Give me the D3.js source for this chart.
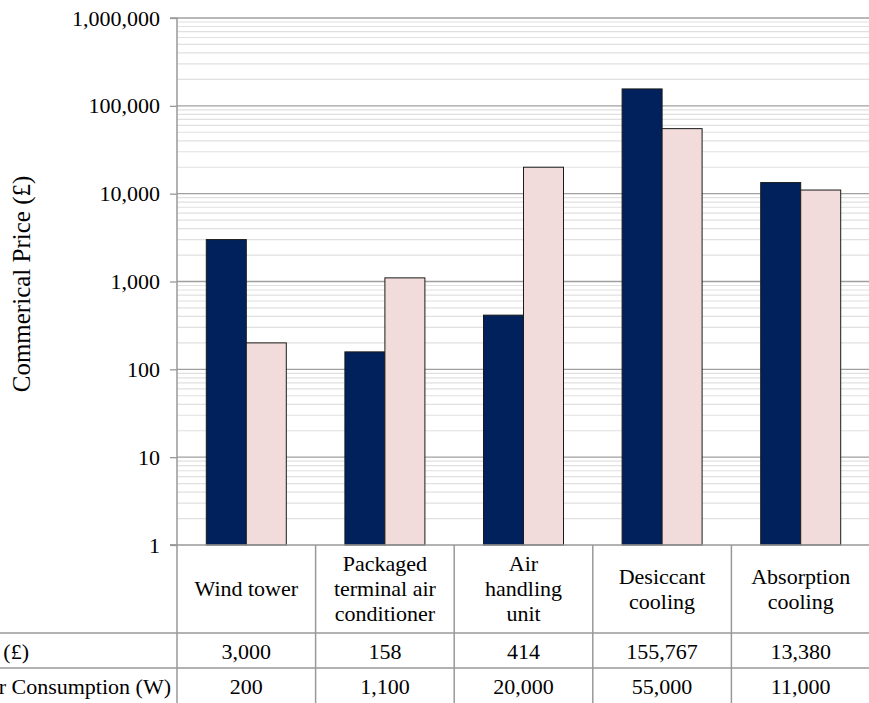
<!DOCTYPE html>
<html><head><meta charset="utf-8">
<script src="https://cdn.jsdelivr.net/npm/d3@7"></script>
<style>body{margin:0;background:#fff;}svg{display:block;font-family:"Liberation Serif","Times New Roman",serif;}</style>
</head><body>
<svg id="c" width="869" height="703"></svg>
<script>
const categories = [["Wind tower"],["Packaged","terminal air","conditioner"],["Air","handling","unit"],["Desiccant","cooling"],["Absorption","cooling"]];
const priceValues = [3000, 158, 414, 155767, 13380];
const powerValues = [200, 1100, 20000, 55000, 11000];
const rowLabels = ["Commerical Price (£)", "Power Consumption (W)"];
const yTicks = [1, 10, 100, 1000, 10000, 100000, 1000000];
const yTitle = "Commerical Price (£)";

const svg = d3.select("#c");
const L = 177, R = 870, T = 18, B = 545;
const FS = 22;
const x = d3.scaleBand().domain(d3.range(categories.length)).range([L, R]);
const y = d3.scaleLog().domain([1, 1000000]).range([B, T]);
const fmt = d3.format(",");

// minor gridlines
const minors = [];
for (let e = 0; e < 6; e++) for (let m = 2; m <= 9; m++) minors.push(m * Math.pow(10, e));
svg.append("g").selectAll("line").data(minors).join("line")
  .attr("x1", L).attr("x2", R).attr("y1", d => y(d)).attr("y2", d => y(d))
  .attr("stroke", "#e0e0e0").attr("stroke-width", 1.2);
svg.append("g").selectAll("line").data(yTicks.slice(1)).join("line")
  .attr("x1", L).attr("x2", R).attr("y1", d => y(d)).attr("y2", d => y(d))
  .attr("stroke", "#a0a0a0").attr("stroke-width", 1.3);

// bars
const bw = 40;
const g = svg.append("g");
g.selectAll(".p").data(priceValues).join("rect")
  .attr("x", (d, i) => x(i) + x.bandwidth() / 2 - bw).attr("width", bw)
  .attr("y", d => y(d)).attr("height", d => B - y(d))
  .attr("fill", "#00215c").attr("stroke", "#1a1a1a").attr("stroke-width", 1);
g.selectAll(".w").data(powerValues).join("rect")
  .attr("x", (d, i) => x(i) + x.bandwidth() / 2).attr("width", bw)
  .attr("y", d => y(d)).attr("height", d => B - y(d))
  .attr("fill", "#f2dcdb").attr("stroke", "#1a1a1a").attr("stroke-width", 1);

// y axis
const ax = svg.append("g").attr("transform", `translate(${L},0)`)
  .call(d3.axisLeft(y).tickValues(yTicks).tickFormat(fmt).tickSize(7).tickPadding(10));
ax.select(".domain").attr("stroke", "#999").attr("stroke-width", 1.5).attr("d", `M-7,${T}H0V${B}H-7`);
ax.selectAll(".tick line").attr("stroke", "#999").attr("stroke-width", 1.3);
ax.selectAll(".tick text").attr("font-size", FS).attr("fill", "#000").attr("font-family", "Liberation Serif");

// axis line at bottom
svg.append("line").attr("x1", L - 7).attr("x2", R).attr("y1", B).attr("y2", B).attr("stroke", "#999").attr("stroke-width", 1.5);

// y title
svg.append("text").attr("transform", `translate(30,284) rotate(-90)`)
  .attr("text-anchor", "middle").attr("font-size", 25).attr("fill", "#000").text(yTitle);

// data table
const rowY = [545, 633, 668, 703];
const tbl = svg.append("g");
tbl.selectAll(".v").data(d3.range(categories.length)).join("line")
  .attr("x1", (d, i) => x(i)).attr("x2", (d, i) => x(i)).attr("y1", B).attr("y2", 703)
  .attr("stroke", "#999").attr("stroke-width", 1.5);
tbl.selectAll(".h").data([633, 668]).join("line")
  .attr("x1", 0).attr("x2", R).attr("y1", d => d).attr("y2", d => d)
  .attr("stroke", "#999").attr("stroke-width", 1.5);
categories.forEach((lines, i) => {
  const cx = x(i) + x.bandwidth() / 2;
  const cy = (rowY[0] + rowY[1]) / 2;
  const lh = 25;
  const t = tbl.append("text").attr("text-anchor", "middle").attr("font-size", FS).attr("fill", "#000");
  lines.forEach((ln, k) => {
    t.append("tspan").attr("x", cx).attr("y", cy + (k - (lines.length - 1) / 2) * lh + 7).text(ln);
  });
});
const labelEnd = [29, 171];
[priceValues, powerValues].forEach((vals, r) => {
  const cy = (rowY[r + 1] + rowY[r + 2]) / 2 + 8;
  tbl.append("text").attr("x", labelEnd[r]).attr("y", cy).attr("text-anchor", "end")
    .attr("font-size", FS).attr("fill", "#000").text(rowLabels[r]);
  tbl.selectAll(null).data(vals).join("text")
    .attr("x", (d, i) => x(i) + x.bandwidth() / 2).attr("y", cy)
    .attr("text-anchor", "middle").attr("font-size", FS).attr("fill", "#000")
    .text(d => fmt(d));
});
</script>
</body></html>
